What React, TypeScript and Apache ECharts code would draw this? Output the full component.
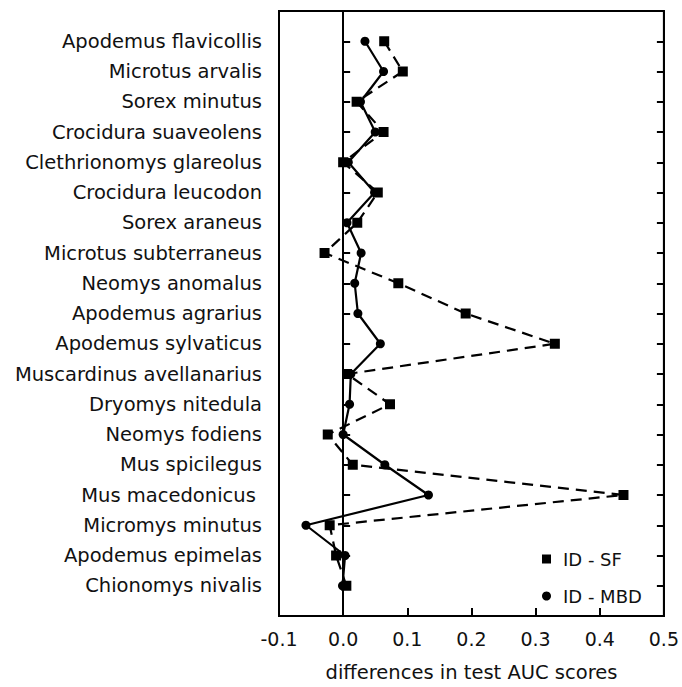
import React, { useEffect, useRef } from "react";
import * as echarts from "echarts";

const categories = [
  "Apodemus flavicollis",
  "Microtus arvalis",
  "Sorex minutus",
  "Crocidura suaveolens",
  "Clethrionomys glareolus",
  "Crocidura leucodon",
  "Sorex araneus",
  "Microtus subterraneus",
  "Neomys anomalus",
  "Apodemus agrarius",
  "Apodemus sylvaticus",
  "Muscardinus avellanarius",
  "Dryomys nitedula",
  "Neomys fodiens",
  "Mus spicilegus",
  "Mus macedonicus ",
  "Micromys minutus",
  "Apodemus epimelas",
  "Chionomys nivalis",
];

const idSF = [
  0.064, 0.093, 0.021, 0.063, 0.0, 0.054, 0.022, -0.029, 0.086, 0.191,
  0.33, 0.006, 0.073, -0.024, 0.015, 0.437, -0.021, -0.011, 0.005,
];

const idMBD = [
  0.034, 0.063, 0.027, 0.05, 0.008, 0.049, 0.006, 0.028, 0.018, 0.023,
  0.058, 0.012, 0.01, 0.0, 0.065, 0.133, -0.058, 0.003, -0.001,
];

const xTicks = { min: -0.1, max: 0.5, step: 0.1 };
const seriesNames = ["ID - SF", "ID - MBD"];
const xTitle = "differences in test AUC scores";

export default function App() {
  const ref = useRef<HTMLDivElement>(null);

  useEffect(() => {
    if (!ref.current) return;
    const chart = echarts.init(ref.current, null, { renderer: "svg" });
    const font = "'DejaVu Sans', Verdana, sans-serif";
    const black = "#000";
    const yBase = {
      type: "value" as const,
      inverse: true,
      min: -1,
      max: 19,
      interval: 1,
      splitLine: { show: false },
      axisLine: { show: true, lineStyle: { color: black, width: 2 } },
      axisTick: { show: true, inside: true, length: 7, lineStyle: { color: black, width: 2 } },
    };
    chart.setOption({
      animation: false,
      backgroundColor: "#fff",
      grid: {
        left: 279,
        right: 13,
        top: 11,
        bottom: 65,
        show: true,
        borderColor: black,
        borderWidth: 2,
        backgroundColor: "transparent",
      },
      legend: {
        orient: "vertical",
        left: 542,
        top: 550,
        padding: 0,
        itemWidth: 9,
        itemHeight: 9,
        itemGap: 19,
        textStyle: {
          fontFamily: font,
          fontSize: 18,
          color: "#111",
          padding: [0, 0, 0, 7],
        },
        data: [
          { name: seriesNames[0], icon: "rect" },
          { name: seriesNames[1], icon: "circle" },
        ],
      },
      xAxis: {
        type: "value",
        min: xTicks.min,
        max: xTicks.max,
        interval: xTicks.step,
        name: xTitle,
        nameLocation: "middle",
        nameGap: 46,
        nameTextStyle: { fontFamily: font, fontSize: 19.5, color: "#111" },
        splitLine: { show: false },
        axisLine: { show: true, onZero: false, lineStyle: { color: black, width: 2 } },
        axisTick: { show: true, inside: true, length: 8, lineStyle: { color: black, width: 2 } },
        axisLabel: {
          fontFamily: font,
          fontSize: 19,
          color: "#111",
          margin: 13,
          formatter: (v: number) => v.toFixed(1),
        },
      },
      yAxis: [
        {
          ...yBase,
          position: "left",
          axisLabel: {
            fontFamily: font,
            fontSize: 19.5,
            color: "#111",
            margin: 17,
            formatter: (v: number) => categories[v] ?? "",
          },
        },
        {
          ...yBase,
          position: "right",
          axisLabel: { show: false },
        },
      ],
      series: [
        {
          name: seriesNames[0],
          type: "line",
          yAxisIndex: 0,
          data: idSF.map((v, i) => [v, i]),
          symbol: "rect",
          symbolSize: 10,
          itemStyle: { color: black },
          lineStyle: { color: black, width: 2.2, type: [11, 7] },
          markLine: {
            silent: true,
            symbol: "none",
            label: { show: false },
            lineStyle: { color: black, width: 2, type: "solid" },
            data: [{ xAxis: 0 }],
          },
        },
        {
          name: seriesNames[1],
          type: "line",
          yAxisIndex: 0,
          data: idMBD.map((v, i) => [v, i]),
          symbol: "circle",
          symbolSize: 9,
          itemStyle: { color: black },
          lineStyle: { color: black, width: 2.2, type: "solid" },
        },
      ],
    });
    return () => chart.dispose();
  }, []);

  return (
    <div
      ref={ref}
      style={{ position: "fixed", left: 0, top: 0, width: 682, height: 687 }}
    />
  );
}
